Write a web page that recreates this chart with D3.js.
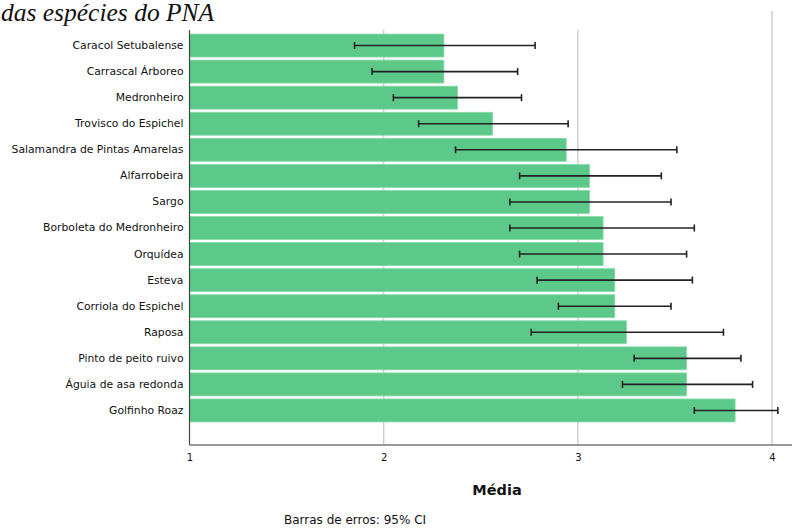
<!DOCTYPE html>
<html>
<head>
<meta charset="utf-8">
<script src="https://cdn.jsdelivr.net/npm/d3@7"></script>
<style>
  html, body { margin: 0; padding: 0; background: #fff; }
  svg { display: block; }
</style>
</head>
<body>
<svg id="chart" width="792" height="529"></svg>
<script>
const categories = [
  "Caracol Setubalense", "Carrascal Árboreo", "Medronheiro", "Trovisco do Espichel",
  "Salamandra de Pintas Amarelas", "Alfarrobeira", "Sargo", "Borboleta do Medronheiro",
  "Orquídea", "Esteva", "Corriola do Espichel", "Raposa", "Pinto de peito ruivo",
  "Águia de asa redonda", "Golfinho Roaz"
];
const means = [2.31, 2.31, 2.38, 2.56, 2.94, 3.06, 3.06, 3.13, 3.13, 3.19, 3.19, 3.25, 3.56, 3.56, 3.81];
const ciLow = [1.85, 1.94, 2.05, 2.18, 2.37, 2.70, 2.65, 2.65, 2.70, 2.79, 2.90, 2.76, 3.29, 3.23, 3.60];
const ciHigh = [2.78, 2.69, 2.71, 2.95, 3.51, 3.43, 3.48, 3.60, 3.56, 3.59, 3.48, 3.75, 3.84, 3.90, 4.03];
const xTicks = [1, 2, 3, 4];
const titleText = "das espécies do PNA";
const xTitle = "Média";
const footnote = "Barras de erros: 95% CI";

const data = categories.map((c, i) => ({ cat: c, mean: means[i], lo: ciLow[i], hi: ciHigh[i] }));

const svg = d3.select("#chart");
const x = d3.scaleLinear().domain([1, 4]).range([189.5, 772]);
const y = d3.scaleBand().domain(categories).range([32.5, 423.5]).paddingInner(0.12).paddingOuter(0.06);
const axisY = 445;

// gridlines
svg.append("g").selectAll("line").data(xTicks.filter(t => t > 1)).join("line")
  .attr("x1", d => x(d)).attr("x2", d => x(d))
  .attr("y1", d => d === 4 ? 11 : 30).attr("y2", axisY)
  .attr("stroke", "#cfcfcf").attr("stroke-width", 1.5);

// bars
svg.append("g").selectAll("rect").data(data).join("rect")
  .attr("x", x(1)).attr("y", d => y(d.cat))
  .attr("width", d => x(d.mean) - x(1)).attr("height", y.bandwidth())
  .attr("fill", "#5cc98b").attr("stroke", "#86d9a8").attr("stroke-width", 0.8);

// error bars
const eb = svg.append("g").attr("stroke", "#222").attr("stroke-width", 1.6);
eb.selectAll("line.ci").data(data).join("line").attr("class", "ci")
  .attr("x1", d => x(d.lo)).attr("x2", d => x(d.hi))
  .attr("y1", d => y(d.cat) + y.bandwidth() / 2).attr("y2", d => y(d.cat) + y.bandwidth() / 2);
eb.selectAll("line.capL").data(data).join("line").attr("class", "capL")
  .attr("x1", d => x(d.lo)).attr("x2", d => x(d.lo))
  .attr("y1", d => y(d.cat) + y.bandwidth() / 2 - 3.5).attr("y2", d => y(d.cat) + y.bandwidth() / 2 + 3.5);
eb.selectAll("line.capR").data(data).join("line").attr("class", "capR")
  .attr("x1", d => x(d.hi)).attr("x2", d => x(d.hi))
  .attr("y1", d => y(d.cat) + y.bandwidth() / 2 - 3.5).attr("y2", d => y(d.cat) + y.bandwidth() / 2 + 3.5);

// y axis
const yAxis = d3.axisLeft(y).tickSize(0).tickPadding(6);
const gy = svg.append("g").attr("transform", `translate(${x(1)},0)`).call(yAxis);
gy.select(".domain").remove();
gy.selectAll("text").attr("font-family", "DejaVu Sans, sans-serif").attr("font-size", 10.8).attr("fill", "#111");
svg.append("line").attr("x1", x(1)).attr("x2", x(1)).attr("y1", 30).attr("y2", axisY)
  .attr("stroke", "#444").attr("stroke-width", 1.2);

// x axis
const xAxis = d3.axisBottom(x).tickValues(xTicks).tickFormat(d3.format("d")).tickSize(0).tickPadding(9);
const gx = svg.append("g").attr("transform", `translate(0,${axisY})`).call(xAxis);
gx.select(".domain").remove();
gx.selectAll("text").attr("font-family", "DejaVu Sans, sans-serif").attr("font-size", 10).attr("fill", "#111");
svg.append("line").attr("x1", x(1)).attr("x2", 792).attr("y1", axisY).attr("y2", axisY)
  .attr("stroke", "#777").attr("stroke-width", 1.3);

// axis title
svg.append("text").attr("x", 497).attr("y", 495).attr("text-anchor", "middle")
  .attr("font-family", "DejaVu Sans, sans-serif").attr("font-weight", "bold").attr("font-size", 14.5)
  .attr("fill", "#111").text(xTitle);

// footnote
svg.append("text").attr("x", 284).attr("y", 524)
  .attr("font-family", "DejaVu Sans, sans-serif").attr("font-size", 12)
  .attr("fill", "#111").text(footnote);

// title (clipped on the left in the reference)
svg.append("text").attr("x", 1).attr("y", 21)
  .attr("font-family", "Liberation Serif, serif").attr("font-style", "italic").attr("font-size", 25.5)
  .attr("fill", "#111").text(titleText);
</script>
</body>
</html>
